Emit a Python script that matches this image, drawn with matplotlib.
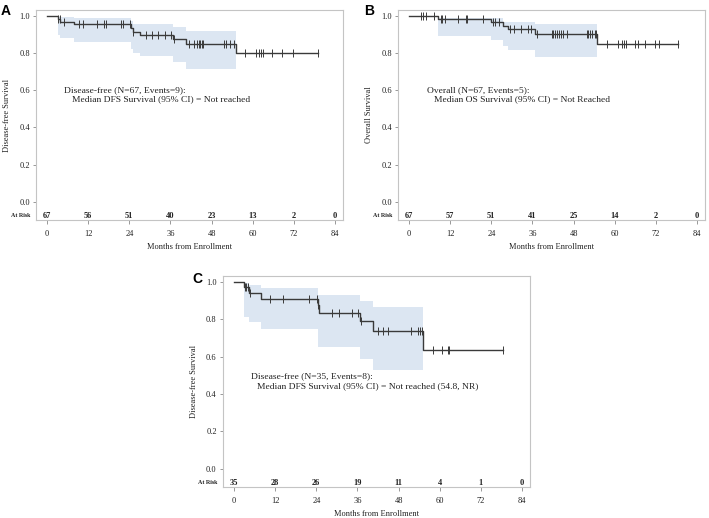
import numpy as np
import matplotlib
matplotlib.use("Agg")
import matplotlib.pyplot as plt
import matplotlib.transforms as mtransforms

plt.rcParams['font.family'] = ['Liberation Serif', 'DejaVu Serif']

# ---- panel A : disease-free survival, N=67 ----
evt_a = [0, 3.1, 3.9, 8.0, 24.6, 25.2, 27.2, 36.7, 40.6, 55.0]
surv_a = [1.0, 0.985, 0.970, 0.955, 0.936, 0.916, 0.897, 0.874, 0.850, 0.800]
end_a = 79.1
cens_a = [3.1, 3.7, 4.9, 9.3, 10.5, 14.6, 16.5, 17.1, 21.6, 22.1, 24.1, 25.2,
          28.8, 30.6, 32.5, 34.5, 36.2, 37.1, 41.5, 43.0, 43.7, 44.3, 44.7,
          45.1, 45.6, 51.7, 52.2, 53.4, 54.4, 57.6, 61.0, 61.9, 62.3, 63.1,
          65.5, 68.4, 71.8, 79.1]
ci_t_a = [3.1, 3.9, 8.0, 24.6, 25.2, 27.2, 36.7, 40.6, 55.0]
ci_lo_a = [0.90, 0.88, 0.86, 0.82, 0.80, 0.785, 0.75, 0.717]
ci_hi_a = [0.992, 0.992, 0.99, 0.975, 0.955, 0.955, 0.938, 0.92]
risk_a = [67, 56, 51, 40, 23, 13, 2, 0]

# ---- panel B : overall survival, N=67 ----
evt_b = [0, 8.5, 23.9, 27.4, 28.9, 36.7, 54.8]
surv_b = [1.0, 0.985, 0.970, 0.948, 0.928, 0.902, 0.850]
end_b = 78.5
cens_b = [3.6, 4.1, 5.1, 7.2, 9.3, 9.6, 10.6, 14.3, 16.5, 17.0, 21.6, 24.4,
          25.0, 26.2, 29.4, 30.7, 32.7, 34.6, 35.6, 37.2, 41.6, 42.1, 42.6,
          43.1, 43.6, 44.3, 45.0, 46.0, 52.0, 52.3, 52.8, 53.5, 54.1, 54.5,
          57.7, 60.9, 62.1, 62.6, 63.3, 65.8, 66.8, 68.9, 71.8, 73.0, 78.5]
ci_t_b = [8.5, 23.9, 27.4, 28.9, 36.7, 54.8]
ci_lo_b = [0.89, 0.868, 0.84, 0.815, 0.78]
ci_hi_b = [0.99, 0.99, 0.968, 0.965, 0.955]
risk_b = [67, 57, 51, 41, 25, 14, 2, 0]

# ---- panel C : disease-free survival, N=35 ----
evt_c = [0, 2.8, 4.5, 7.9, 24.4, 24.8, 36.6, 40.4, 55.0]
surv_c = [1.0, 0.971, 0.941, 0.911, 0.875, 0.835, 0.790, 0.740, 0.636]
end_c = 78.3
cens_c = [3.1, 3.5, 4.0, 4.8, 10.5, 14.4, 22.0, 24.1, 24.6, 28.6, 30.6, 34.4,
          36.1, 37.1, 41.9, 43.5, 45.0, 51.6, 53.6, 54.3, 54.8, 57.9, 60.7,
          62.5, 62.7, 78.3]
ci_t_c = [2.8, 4.5, 7.9, 24.4, 36.6, 40.4, 55.0]
ci_lo_c = [0.815, 0.787, 0.746, 0.651, 0.589, 0.528]
ci_hi_c = [0.993, 0.984, 0.97, 0.929, 0.898, 0.868]
risk_c = [35, 28, 26, 19, 11, 4, 1, 0]

xticks = [0, 12, 24, 36, 48, 60, 72, 84]
yticks = [0.0, 0.2, 0.4, 0.6, 0.8, 1.0]

line_col = '#3a3a3a'
band_col = '#dce6f2'
frame_col = '#c4c4c4'
txt_col = '#222222'


def km_panel(ax, evt, surv, end, cens, ci_t, ci_lo, ci_hi, risk, ylab, line1, line2, pos1, pos2):
    # confidence band
    ax.fill_between(ci_t, ci_lo + [ci_lo[-1]], ci_hi + [ci_hi[-1]],
                    step='post', color=band_col, lw=0, zorder=1)
    # KM step curve
    ax.step(evt + [end], surv + [surv[-1]], where='post', color=line_col, lw=1.0, zorder=3)
    # censor marks on the curve
    idx = np.searchsorted(evt, cens, side='right') - 1
    ax.plot(cens, np.array(surv)[idx], ls='none', marker='|', ms=6, mew=0.7,
            color=line_col, zorder=4)

    ax.set_xlim(-3.2, 86.3)
    ax.set_ylim(-0.098, 1.032)
    ax.set_xticks(xticks)
    ax.set_yticks(yticks)
    ax.set_yticklabels([f'{v:.1f}' for v in yticks])
    ax.tick_params(axis='both', colors='#888888', labelcolor=txt_col, labelsize=6,
                   width=0.6)
    ax.tick_params(axis='x', length=3, pad=4)
    ax.tick_params(axis='y', length=2.5, pad=2)
    for s in ax.spines.values():
        s.set_color(frame_col)
        s.set_linewidth(0.8)

    ax.set_xlabel('Months from Enrollment', fontsize=6, color=txt_col, labelpad=4)
    ax.set_ylabel(ylab, fontsize=6, color=txt_col, labelpad=6)

    # number at risk row
    for t, n in zip(xticks, risk):
        ax.text(t, -0.075, str(n), ha='center', va='center', fontsize=6,
                fontweight='bold', color=txt_col)
    tr = mtransforms.blended_transform_factory(ax.transAxes, ax.transData)
    ax.text(-0.017, -0.075, 'At Risk', transform=tr, ha='right', va='center',
            fontsize=4.3, fontweight='bold', color=txt_col)

    ax.text(pos1[0], pos1[1], line1, ha='left', va='center', fontsize=6.8, color=txt_col)
    ax.text(pos2[0], pos2[1], line2, ha='left', va='center', fontsize=6.8, color=txt_col)


fig = plt.figure(figsize=(7.09, 5.18), dpi=100)
W, H = 709, 518
ax_a = fig.add_axes([36 / W, 1 - 220 / H, 307 / W, 210 / H])
ax_b = fig.add_axes([398 / W, 1 - 220 / H, 307 / W, 210 / H])
ax_c = fig.add_axes([223 / W, 1 - 487 / H, 307 / W, 211 / H])

km_panel(ax_a, evt_a, surv_a, end_a, cens_a, ci_t_a, ci_lo_a, ci_hi_a, risk_a,
         'Disease-free Survival', 'Disease-free (N=67, Events=9):',
         'Median DFS Survival (95% CI) = Not reached', (5.1, 0.60), (7.2, 0.55))
km_panel(ax_b, evt_b, surv_b, end_b, cens_b, ci_t_b, ci_lo_b, ci_hi_b, risk_b,
         'Overall Survival', 'Overall (N=67, Events=5):',
         'Median OS Survival (95% CI) = Not Reached', (5.4, 0.60), (7.2, 0.55))
km_panel(ax_c, evt_c, surv_c, end_c, cens_c, ci_t_c, ci_lo_c, ci_hi_c, risk_c,
         'Disease-free Survival', 'Disease-free (N=35, Events=8):',
         'Median DFS Survival (95% CI) = Not reached (54.8, NR)', (5.0, 0.496), (6.6, 0.442))

for lab, x, y in [('A', 1, 4), ('B', 364, 4), ('C', 192, 272)]:
    fig.text(x / W, 1 - y / H, lab, ha='left', va='top', fontsize=10,
             fontweight='bold', family='Liberation Sans', color='black')

fig.savefig('out.png', dpi=100)
